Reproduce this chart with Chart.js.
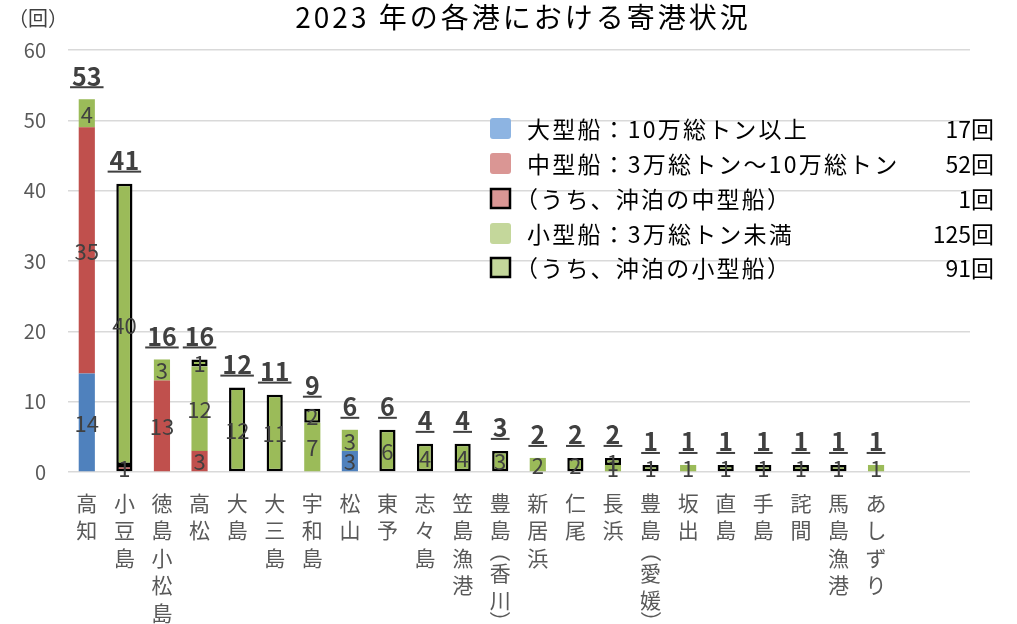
<!DOCTYPE html>
<html lang="ja">
<head>
<meta charset="utf-8">
<script src="https://cdn.jsdelivr.net/npm/chart.js@4.4.1/dist/chart.umd.min.js"></script>
<style>
  html, body { margin: 0; padding: 0; background: #ffffff; }
  #wrap { width: 1017px; height: 624px; position: relative; }
</style>
</head>
<body>
<div id="wrap"><canvas id="c" width="1017" height="624"></canvas></div>
<script>
// ---- Data ----
const title = '2023 年の各港における寄港状況';
const unitLabel = '（回）';
const categories = ['高知','小豆島','徳島小松島','高松','大島','大三島','宇和島','松山','東予','志々島','笠島漁港','豊島（香川）','新居浜','仁尾','長浜','豊島（愛媛）','坂出','直島','手島','詫間','馬島漁港','あしずり','',''];
const largeShips       = [14,null,null,null,null,null,null,3,null,null,null,null,null,null,null,null,null,null,null,null,null,null,null,null];
const mediumShips      = [35,null,13,3,null,null,null,null,null,null,null,null,null,null,null,null,null,null,null,null,null,null,null,null];
const mediumAnchored   = [null,1,null,null,null,null,null,null,null,null,null,null,null,null,null,null,null,null,null,null,null,null,null,null];
const smallShips       = [4,null,3,12,null,null,7,3,null,null,null,null,2,null,1,null,1,null,null,null,null,1,null,null];
const smallAnchored    = [null,40,null,1,12,11,2,null,6,4,4,3,null,2,1,1,null,1,1,1,1,null,null,null];
const yTicks = [0,10,20,30,40,50,60];
const legendLabels = ['大型船：10万総トン以上','中型船：3万総トン～10万総トン','（うち、沖泊の中型船）','小型船：3万総トン未満','（うち、沖泊の小型船）'];

// ---- Styles ----
const BLUE = '#4F81BD', RED = '#C0504D', GREEN = '#9BBB59';
const LEG_BLUE = '#8DB4E2', LEG_RED = '#DA9694', LEG_GREEN = '#C4D79B';
const FONT = '"Noto Sans CJK JP", "Noto Sans", sans-serif';

const sum = a => a.reduce((s, v) => s + (v || 0), 0);
const legendCounts = [
  sum(largeShips),
  sum(mediumShips) + sum(mediumAnchored),
  sum(mediumAnchored),
  sum(smallShips) + sum(smallAnchored),
  sum(smallAnchored)
];
const legendFills = [LEG_BLUE, LEG_RED, LEG_RED, LEG_GREEN, LEG_GREEN];
const legendBorder = [false, false, true, false, true];

const allSeries = [largeShips, mediumShips, mediumAnchored, smallShips, smallAnchored];
const totals = categories.map((_, i) => allSeries.reduce((s, a) => s + (a[i] || 0), 0));

const customDraw = {
  id: 'customDraw',
  afterDatasetsDraw(chart) {
    const ctx = chart.ctx;
    ctx.save();
    // segment labels
    ctx.font = '22px ' + FONT;
    ctx.fillStyle = '#404040';
    ctx.textAlign = 'center';
    ctx.textBaseline = 'middle';
    chart.data.datasets.forEach((ds, di) => {
      const meta = chart.getDatasetMeta(di);
      meta.data.forEach((bar, j) => {
        const v = ds.data[j];
        if (v == null) return;
        const p = bar.getProps(['x', 'y', 'base'], true);
        ctx.fillText(String(v), p.x, (p.y + p.base) / 2 + 1);
      });
    });
    // totals
    const xs = chart.scales.x, ys = chart.scales.y;
    ctx.font = 'bold 25px ' + FONT;
    totals.forEach((t, j) => {
      if (!t) return;
      const x = xs.getPixelForValue(j);
      const cy = ys.getPixelForValue(t) - 23;
      const txt = String(t);
      ctx.fillText(txt, x, cy);
      const w = ctx.measureText(txt).width + 4;
      ctx.fillRect(x - w / 2, cy + 10, w, 2);
    });
    ctx.restore();
  },
  afterDraw(chart) {
    const ctx = chart.ctx;
    const xs = chart.scales.x;
    ctx.save();
    // title
    ctx.fillStyle = '#000000';
    ctx.font = '28px ' + FONT;
    ctx.textAlign = 'center';
    ctx.textBaseline = 'middle';
    ctx.letterSpacing = '3px';
    ctx.fillText(title, (chart.chartArea.left + chart.chartArea.right) / 2 + 4, 17);
    ctx.letterSpacing = '0px';
    // unit
    ctx.fillStyle = '#404040';
    ctx.font = '20px ' + FONT;
    ctx.textAlign = 'left';
    ctx.fillText(unitLabel, 8, 18);
    // vertical x labels
    ctx.fillStyle = '#595959';
    ctx.font = '21px ' + FONT;
    ctx.textAlign = 'center';
    categories.forEach((name, j) => {
      if (!name) return;
      const x = xs.getPixelForValue(j);
      let cur = chart.chartArea.bottom + 17;
      for (const ch of name) {
        const paren = ch === '（' || ch === '）';
        const h = paren ? 15 : 27.5;
        const cy = cur + h / 2;
        if (paren) {
          ctx.save();
          ctx.translate(x, cy);
          ctx.rotate(Math.PI / 2);
          ctx.textAlign = 'center';
          ctx.textBaseline = 'middle';
          ctx.fillText(ch, 0, 0);
          ctx.restore();
        } else {
          ctx.fillText(ch, x, cy);
        }
        cur += h;
      }
    });
    // legend
    const lx = 490, rowY = [128, 163, 198, 233, 267];
    ctx.font = '23px ' + FONT;
    legendLabels.forEach((lab, i) => {
      const y = rowY[i];
      ctx.fillStyle = legendFills[i];
      if (legendBorder[i]) {
        ctx.fillRect(lx + 1, y - 9, 19, 19);
        ctx.strokeStyle = '#000000';
        ctx.lineWidth = 2.5;
        ctx.strokeRect(lx + 1, y - 9, 19, 19);
      } else {
        ctx.beginPath();
        ctx.roundRect(lx, y - 10, 21, 21, 3);
        ctx.fill();
      }
      ctx.fillStyle = '#000000';
      ctx.textAlign = 'left';
      ctx.letterSpacing = '2.2px';
      const tx = lab.startsWith('（') ? 515 : 527;
      ctx.fillText(lab, tx, y + 1);
      ctx.letterSpacing = '0px';
      ctx.textAlign = 'right';
      ctx.fillText(legendCounts[i] + '回', 994, y + 1);
    });
    ctx.restore();
  }
};

const mk = (label, data, color, anchored) => ({
  label, data,
  backgroundColor: color,
  borderColor: '#000000',
  borderWidth: anchored ? 2.5 : 0,
  borderSkipped: false,
  stack: 's',
  barPercentage: 0.43,
  categoryPercentage: 1.0
});

new Chart(document.getElementById('c'), {
  type: 'bar',
  data: {
    labels: categories,
    datasets: [
      mk(legendLabels[0], largeShips, BLUE, false),
      mk(legendLabels[1], mediumShips, RED, false),
      mk(legendLabels[2], mediumAnchored, RED, true),
      mk(legendLabels[3], smallShips, GREEN, false),
      mk(legendLabels[4], smallAnchored, GREEN, true)
    ]
  },
  options: {
    responsive: false,
    devicePixelRatio: 1,
    animation: false,
    layout: { padding: { top: 50, right: 47, bottom: 152, left: 0 } },
    plugins: { legend: { display: false }, title: { display: false }, tooltip: { enabled: false } },
    scales: {
      x: {
        stacked: true,
        ticks: { display: false },
        grid: { display: false, drawTicks: false },
        border: { display: false },
        afterFit(s) { s.height = 0; }
      },
      y: {
        stacked: true,
        min: 0, max: 60,
        afterBuildTicks(s) { s.ticks = yTicks.map(v => ({ value: v })); },
        ticks: { color: '#595959', font: { size: 20, family: FONT }, padding: 22 },
        grid: { color: '#d9d9d9', lineWidth: 1.5, drawTicks: false },
        border: { display: false },
        afterFit(s) { s.width = 68; }
      }
    }
  },
  plugins: [customDraw]
});
</script>
</body>
</html>
